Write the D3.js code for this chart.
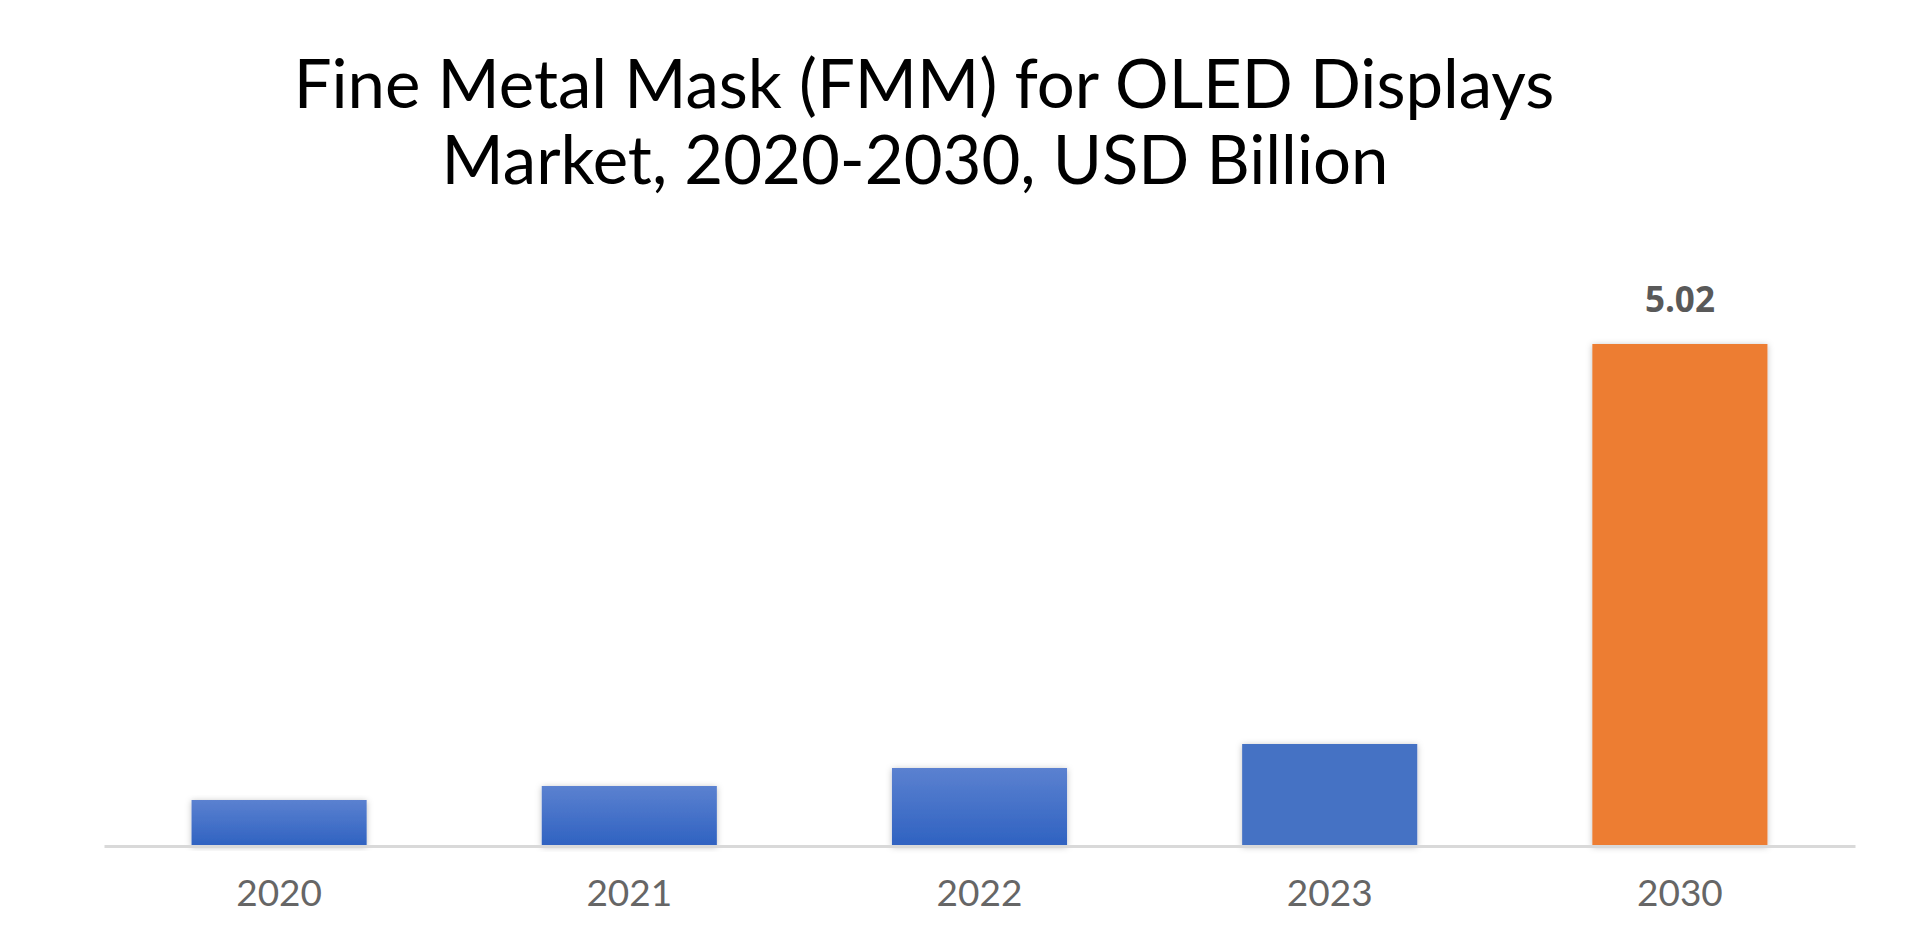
<!DOCTYPE html>
<html>
<head>
<meta charset="utf-8">
<script src="https://cdn.jsdelivr.net/npm/d3@7"></script>
<style>
  html, body { margin: 0; padding: 0; background: #fff; }
  svg { display: block; }
</style>
</head>
<body>
<script>
// ---- Data ----
const titleLines = ["Fine Metal Mask (FMM) for OLED Displays", "Market, 2020-2030, USD Billion"];
const categories = ["2020", "2021", "2022", "2023", "2030"];
const values = [0.46, 0.60, 0.78, 1.02, 5.02];
const valueLabels = ["", "", "", "", "5.02"];
const barStyles = ["gradient", "gradient", "gradient", "flat", "orange"];

// ---- Layout ----
const W = 1920, H = 943;
const baseY = 846;
const svg = d3.select("body").append("svg").attr("width", W).attr("height", H);

const defs = svg.append("defs");
const grad = defs.append("linearGradient").attr("id", "blueGrad")
  .attr("x1", 0).attr("y1", 0).attr("x2", 0).attr("y2", 1);
grad.append("stop").attr("offset", "0%").attr("stop-color", "#5b81d0");
grad.append("stop").attr("offset", "100%").attr("stop-color", "#2f62c1");
const filt = defs.append("filter").attr("id", "shadow")
  .attr("x", "-10%").attr("y", "-10%").attr("width", "120%").attr("height", "120%");
filt.append("feDropShadow").attr("dx", 0).attr("dy", 1).attr("stdDeviation", 3)
  .attr("flood-color", "#000").attr("flood-opacity", 0.25);

const x = d3.scaleBand().domain(categories).range([104, 1855])
  .paddingInner(0.5).paddingOuter(0.25);
const y = d3.scaleLinear().domain([0, 5.5]).range([baseY, baseY - 550]);

const fillFor = s => s === "gradient" ? "url(#blueGrad)" : (s === "flat" ? "#4472c4" : "#ed7d31");

// Bars
svg.append("g").selectAll("rect").data(categories).join("rect")
  .attr("x", d => x(d))
  .attr("y", (d, i) => y(values[i]))
  .attr("width", x.bandwidth())
  .attr("height", (d, i) => y(0) - y(values[i]))
  .attr("fill", (d, i) => fillFor(barStyles[i]))
  .attr("filter", "url(#shadow)");

// Axis
const axis = svg.append("g").attr("transform", `translate(0,${baseY})`)
  .call(d3.axisBottom(x).tickSize(0).tickPadding(34));
axis.select(".domain").attr("stroke", "#d9d9d9").attr("stroke-width", 3);
axis.selectAll("text")
  .attr("font-family", "Lato, 'Noto Sans', sans-serif")
  .attr("font-size", 37)
  .attr("fill", "#666666");

// Value labels
svg.append("g").selectAll("text").data(categories).join("text")
  .attr("x", d => x(d) + x.bandwidth() / 2)
  .attr("y", (d, i) => y(values[i]) - 32)
  .attr("text-anchor", "middle")
  .attr("font-family", "'Open Sans', 'Noto Sans', sans-serif")
  .attr("font-weight", "bold")
  .attr("font-size", 35)
  .attr("fill", "#595959")
  .text((d, i) => valueLabels[i]);

// Title
const title = svg.append("g");
const tl = title.selectAll("text").data(titleLines).join("text")
  .attr("x", (d, i) => i === 0 ? 924 : 915)
  .attr("y", (d, i) => 108 + i * 76)
  .attr("text-anchor", "middle")
  .attr("font-family", "Lato, 'Noto Sans', sans-serif")
  .attr("font-size", 66)
  .attr("fill", "#000")
  .text(d => d);
// scale font to match reference width of the first line
const w0 = tl.nodes()[0].getComputedTextLength();
const fs = 66 * 1261 / w0;
tl.attr("font-size", Math.min(fs, 72));
</script>
</body>
</html>
